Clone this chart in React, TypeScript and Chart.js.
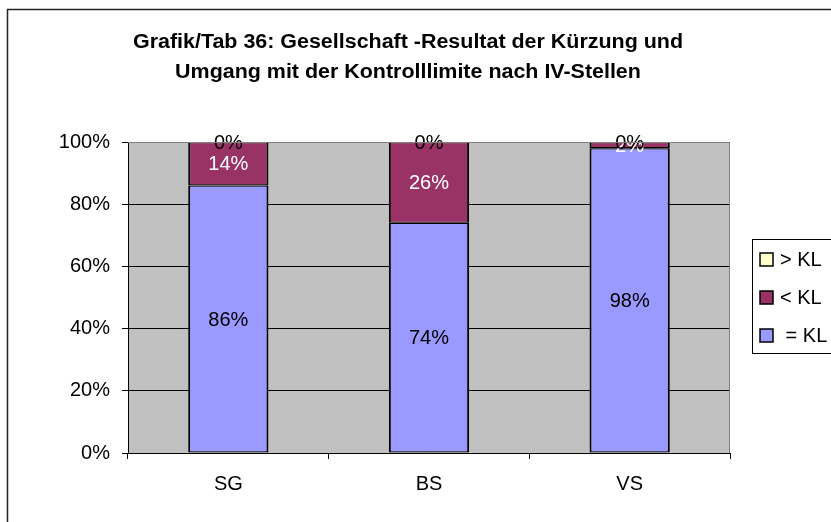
import React, { useEffect, useRef } from "react";
import { Chart, registerables } from "chart.js";

Chart.register(...registerables);

const categories = ["SG", "BS", "VS"];
const equalKL = [86, 74, 98];
const belowKL = [14, 26, 2];
const aboveKL = [0, 0, 0];
const seriesNames = ["= KL", "< KL", "> KL"];
const legendLabels = ["> KL", "< KL", " = KL"];
const titleLines = [
  "Grafik/Tab 36: Gesellschaft -Resultat der Kürzung und",
  "Umgang mit der Kontrolllimite nach IV-Stellen",
];
const yTicks = [0, 20, 40, 60, 80, 100];

const FONT = '"Liberation Sans", Arial, sans-serif';
const COLORS = ["#9999FF", "#993366", "#FFFFCC"];
const LABEL_COLORS = ["#000000", "#FFFFFF", "#000000"];

export default function App() {
  const ref = useRef<HTMLCanvasElement>(null);

  useEffect(() => {
    const canvas = ref.current;
    if (!canvas) return;

    const decor = {
      id: "decor",
      beforeDraw(chart: any) {
        const { ctx, chartArea } = chart;
        ctx.save();
        ctx.fillStyle = "#FFFFFF";
        ctx.fillRect(0, 0, chart.width, chart.height);
        // outer border
        ctx.strokeStyle = "#222222";
        ctx.lineWidth = 1.5;
        ctx.beginPath();
        ctx.moveTo(7.5, 530);
        ctx.lineTo(7.5, 9.5);
        ctx.lineTo(840, 9.5);
        ctx.stroke();
        // plot background
        ctx.fillStyle = "#C0C0C0";
        ctx.fillRect(chartArea.left, chartArea.top, chartArea.right - chartArea.left, chartArea.bottom - chartArea.top);
        // title (slightly widened to match the reference rendering)
        ctx.fillStyle = "#000000";
        ctx.font = `bold 20px ${FONT}`;
        ctx.textAlign = "center";
        ctx.textBaseline = "middle";
        const w0 = ctx.measureText(titleLines[0]).width;
        const sx = 550 / w0;
        ctx.save();
        ctx.translate(408, 0);
        ctx.scale(sx, 1);
        ctx.fillText(titleLines[0], 0, 42);
        ctx.fillText(titleLines[1], 0, 72);
        ctx.restore();
        // legend
        ctx.strokeStyle = "#000000";
        ctx.lineWidth = 1;
        ctx.strokeRect(752.5, 239.5, 100, 114);
        const ys = [259, 297, 335];
        const colorIdx = [2, 1, 0];
        ctx.font = `20px ${FONT}`;
        ctx.textAlign = "left";
        for (let i = 0; i < 3; i++) {
          ctx.fillStyle = COLORS[colorIdx[i]];
          ctx.fillRect(760, ys[i] - 6, 13, 13);
          ctx.lineWidth = 1.5;
          ctx.strokeStyle = "#000000";
          ctx.strokeRect(760, ys[i] - 6, 13, 13);
          ctx.fillStyle = "#000000";
          ctx.fillText(legendLabels[i], 780, ys[i] + 1);
        }
        ctx.restore();
      },
      afterDraw(chart: any) {
        const { ctx, chartArea } = chart;
        ctx.save();
        ctx.strokeStyle = "#808080";
        ctx.lineWidth = 1;
        ctx.beginPath();
        ctx.moveTo(chartArea.left, chartArea.top + 0.5);
        ctx.lineTo(chartArea.right - 0.5, chartArea.top + 0.5);
        ctx.lineTo(chartArea.right - 0.5, chartArea.bottom);
        ctx.stroke();
        ctx.restore();
      },
      afterDatasetsDraw(chart: any) {
        const { ctx } = chart;
        ctx.save();
        ctx.font = `20px ${FONT}`;
        ctx.textAlign = "center";
        ctx.textBaseline = "middle";
        chart.data.datasets.forEach((ds: any, i: number) => {
          const meta = chart.getDatasetMeta(i);
          meta.data.forEach((el: any, j: number) => {
            const v = ds.data[j];
            const cy = (el.y + el.base) / 2;
            ctx.fillStyle = LABEL_COLORS[i];
            ctx.fillText(`${v}%`, el.x, cy + 1);
          });
        });
        ctx.restore();
      },
    };

    const mk = (i: number, data: number[]) => ({
      label: seriesNames[i],
      data,
      backgroundColor: COLORS[i],
      borderColor: "#000000",
      borderWidth: { left: 2, right: 2, top: 1.2, bottom: 1.2 },
      borderSkipped: false,
      barPercentage: 0.4,
      categoryPercentage: 1,
    });

    const chart = new Chart(canvas, {
      type: "bar",
      data: {
        labels: categories,
        datasets: [mk(0, equalKL), mk(1, belowKL), mk(2, aboveKL)],
      },
      options: {
        animation: false,
        responsive: false,
        layout: { padding: { left: 0, top: 142, right: 101, bottom: 0 } },
        plugins: {
          legend: { display: false },
          title: { display: false },
          tooltip: { enabled: false },
        },
        scales: {
          x: {
            stacked: true,
            grid: {
              drawOnChartArea: false,
              drawTicks: true,
              tickLength: 6,
              offset: true,
              color: "#000000",
            },
            border: { color: "#000000", width: 1 },
            ticks: {
              color: "#000000",
              font: { family: FONT, size: 20 },
              padding: 13,
            },
            afterFit(scale: any) {
              scale.height = 69;
            },
          },
          y: {
            stacked: true,
            min: 0,
            max: 100,
            afterBuildTicks(scale: any) {
              scale.ticks = yTicks.map((v) => ({ value: v }));
            },
            grid: {
              color: "#000000",
              tickLength: 6,
              drawTicks: true,
            },
            border: { color: "#000000", width: 1 },
            ticks: {
              color: "#000000",
              font: { family: FONT, size: 20 },
              padding: 12,
              callback: (v: any) => `${v}%`,
            },
            afterFit(scale: any) {
              scale.width = 128;
            },
          },
        },
      },
      plugins: [decor],
    });

    return () => chart.destroy();
  }, []);

  return (
    <div style={{ position: "absolute", left: 0, top: 0, width: 831, height: 522 }}>
      <canvas ref={ref} width={831} height={522} style={{ width: 831, height: 522 }} />
    </div>
  );
}
